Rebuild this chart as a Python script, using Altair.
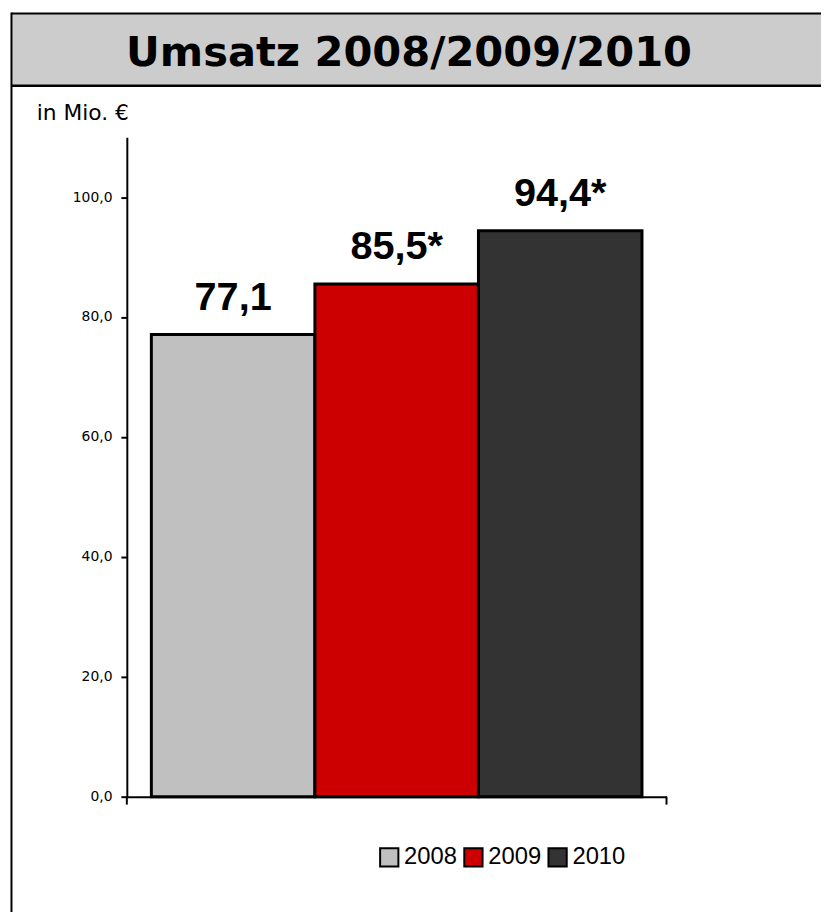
import altair as alt
import pandas as pd

years = ["2008", "2009", "2010"]
values = [77.1, 85.5, 94.4]
labels = ["77,1", "85,5*", "94,4*"]
colors = ["#C0C0C0", "#CC0000", "#333333"]
title_text = "Umsatz 2008/2009/2010"
unit_text = "in Mio. €"

df = pd.DataFrame({"year": years, "value": values, "label": labels})
one = pd.DataFrame({"k": [0]})

W, H = 545, 666
PL, PT = 120, 126
TOTAL_W, TOTAL_H = 821, 904

xs = alt.X("year:N", sort=years,
           scale=alt.Scale(paddingInner=0, paddingOuter=0.15),
           axis=alt.Axis(labels=False, ticks=False, title=None,
                         domainColor="black", domainWidth=2))
ys = alt.Y("value:Q", scale=alt.Scale(domain=[0, 110], nice=False),
           axis=alt.Axis(values=[0, 20, 40, 60, 80, 100], title=None,
                         labelExpr="replace(format(datum.value, '.1f'), '.', ',')",
                         labelFont="DejaVu Sans", labelFontSize=14, labelColor="black",
                         labelPadding=9, tickSize=6, tickColor="black", tickWidth=2,
                         domainColor="black", domainWidth=2, grid=False))

bars = alt.Chart(df).mark_bar(stroke="black", strokeWidth=3).encode(
    x=xs, y=ys,
    color=alt.Color("year:N", scale=alt.Scale(domain=years, range=colors),
                    legend=alt.Legend(orient="none", legendX=253, legendY=715,
                                      direction="horizontal", title=None,
                                      symbolType="square", symbolSize=340,
                                      symbolStrokeColor="black", symbolStrokeWidth=2,
                                      symbolOpacity=1,
                                      labelFont="Liberation Sans", labelFontSize=24,
                                      labelColor="black", labelOffset=3,
                                      columnPadding=2)),
)

texts = alt.Chart(df).mark_text(font="Liberation Sans", fontWeight="bold", fontSize=40,
                                baseline="alphabetic", dy=-25, color="black").encode(
    x=alt.X("year:N", sort=years), y="value:Q", text="label:N")

band = alt.Chart(one).mark_rect(fill="#CCCCCC").encode(
    x=alt.value(-116.5), x2=alt.value(TOTAL_W - PL + 10),
    y=alt.value(-125), y2=alt.value(-52))

top_line = alt.Chart(one).mark_rule(color="black", strokeWidth=2).encode(
    x=alt.value(-116.5), x2=alt.value(TOTAL_W - PL + 10), y=alt.value(-125))
mid_line = alt.Chart(one).mark_rule(color="black", strokeWidth=2.5).encode(
    x=alt.value(-116.5), x2=alt.value(TOTAL_W - PL + 10), y=alt.value(-52))

left_line = alt.Chart(one).mark_rule(color="black", strokeWidth=2).encode(
    x=alt.value(-116.5), y=alt.value(-126), y2=alt.value(TOTAL_H - PT + 5))

title = alt.Chart(one).mark_text(font="DejaVu Sans", fontWeight="bold", fontSize=42,
                                 align="center", baseline="alphabetic", color="black").encode(
    x=alt.value(285), y=alt.value(-72), text=alt.value(title_text))

unit = alt.Chart(one).mark_text(font="DejaVu Sans", fontSize=22, align="left",
                                baseline="middle", color="black").encode(
    x=alt.value(-91), y=alt.value(-24), text=alt.value(unit_text))

tick_l = alt.Chart(one).mark_rule(color="black", strokeWidth=2).encode(
    x=alt.value(0), y=alt.value(H), y2=alt.value(H + 8))
tick_r = alt.Chart(one).mark_rule(color="black", strokeWidth=2).encode(
    x=alt.value(W), y=alt.value(H), y2=alt.value(H + 8))

chart = alt.layer(band, top_line, mid_line, left_line, title, unit, bars, texts,
                  tick_l, tick_r).properties(
    width=W, height=H,
    view=alt.ViewBackground(stroke="transparent", strokeWidth=0, fill="transparent"),
    autosize=alt.AutoSizeParams(type="none"),
    padding={"left": PL, "top": PT, "right": TOTAL_W - PL - W, "bottom": TOTAL_H - PT - H},
).configure_view(strokeWidth=0, stroke="transparent").configure(background="white")

chart.save("out.html", embed_options={"renderer": "svg", "actions": False})
